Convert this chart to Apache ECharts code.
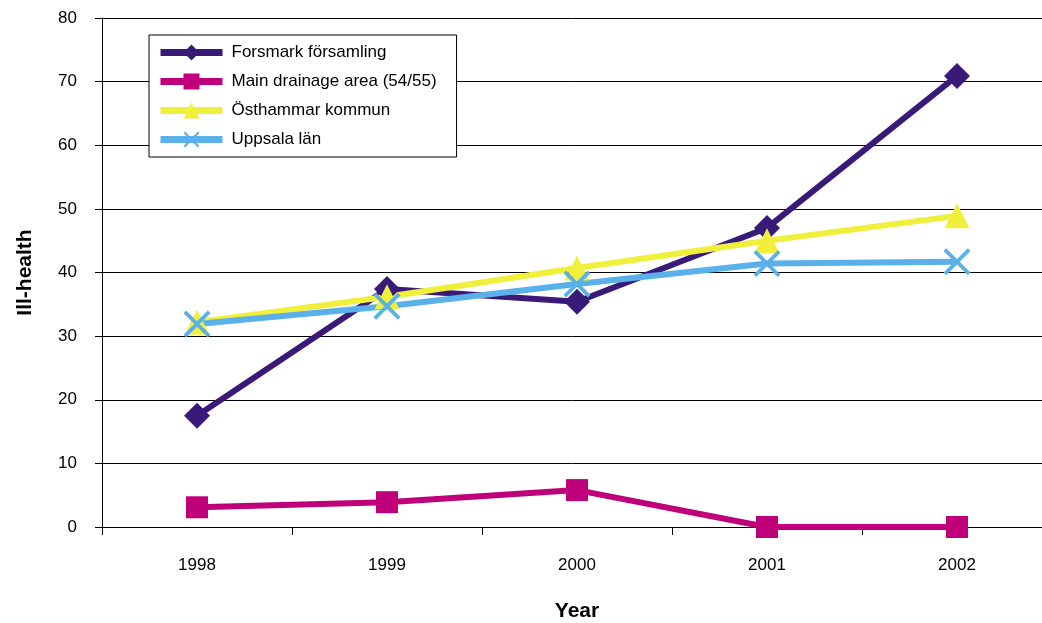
<!DOCTYPE html>
<html>
<head>
<meta charset="utf-8">
<script src="https://cdn.jsdelivr.net/npm/echarts@6/dist/echarts.min.js"></script>
<style>html,body{margin:0;padding:0;background:#fff}#c{width:1042px;height:623px}</style>
</head>
<body>
<div id="c"></div>
<script>
var years = ['1998', '1999', '2000', '2001', '2002'];
var forsmark = [17.5, 37.4, 35.4, 47.0, 70.9];
var mainDrainage = [3.1, 3.9, 5.8, 0, 0];
var osthammar = [32.2, 36.2, 40.7, 45.0, 48.9];
var uppsala = [31.9, 34.7, 38.2, 41.4, 41.7];
var yTicks = [0, 10, 20, 30, 40, 50, 60, 70, 80];

var crossPath = 'path://M0,1L1,0L10,9L9,10Z M9,0L10,1L1,10L0,9Z';
var font = 'Liberation Sans, Arial, sans-serif';

var chart = echarts.init(document.getElementById('c'));
function mk(name, data, color, symbol, size) {
  return {
    name: name, type: 'line', data: data,
    symbol: symbol, symbolSize: size, showSymbol: true,
    lineStyle: { color: color, width: 6 },
    itemStyle: { color: color },
    z: 3
  };
}
chart.setOption({
  animation: false,
  backgroundColor: '#fff',
  grid: { left: 102, top: 18, width: 950, height: 509, containLabel: false, outerBoundsMode: 'none' },
  legend: {
    orient: 'vertical', left: 149, top: 35,
    backgroundColor: '#fff', borderColor: '#000', borderWidth: 1,
    padding: [9, 20, 9, 8], itemGap: 12, itemWidth: 62, itemHeight: 20,
    lineStyle: { width: 7 },
    textStyle: { fontFamily: font, fontSize: 17, color: '#000', padding: [0, 0, 0, 4] },
    data: ['Forsmark församling', 'Main drainage area (54/55)', 'Östhammar kommun', 'Uppsala län']
  },
  xAxis: {
    type: 'category', data: years, boundaryGap: true,
    name: 'Year', nameLocation: 'middle', nameGap: 74,
    nameTextStyle: { fontFamily: font, fontSize: 21, fontWeight: 'bold', color: '#000' },
    axisLine: { lineStyle: { color: '#000', width: 1 } },
    axisTick: { show: true, length: 8, interval: 0, lineStyle: { color: '#000' } },
    axisLabel: { margin: 30, fontFamily: font, fontSize: 17, color: '#000' },
    splitLine: { show: false }
  },
  yAxis: {
    type: 'value', min: yTicks[0], max: yTicks[yTicks.length - 1], interval: 10,
    name: 'Ill-health', nameLocation: 'middle', nameGap: 66,
    nameTextStyle: { fontFamily: font, fontSize: 21, fontWeight: 'bold', color: '#000' },
    axisLine: { show: true, lineStyle: { color: '#000', width: 1 } },
    axisTick: { show: true, length: 7, lineStyle: { color: '#000' } },
    axisLabel: { margin: 25, fontFamily: font, fontSize: 17, color: '#000' },
    splitLine: { show: true, lineStyle: { color: '#000', width: 1 } }
  },
  series: [
    mk('Forsmark församling', forsmark, '#3a1a78', 'diamond', 26),
    mk('Main drainage area (54/55)', mainDrainage, '#c0007a', 'rect', 22),
    mk('Östhammar kommun', osthammar, '#f0f03c', 'triangle', 25),
    mk('Uppsala län', uppsala, '#5ab0e8', crossPath, 27)
  ]
});
</script>
</body>
</html>
